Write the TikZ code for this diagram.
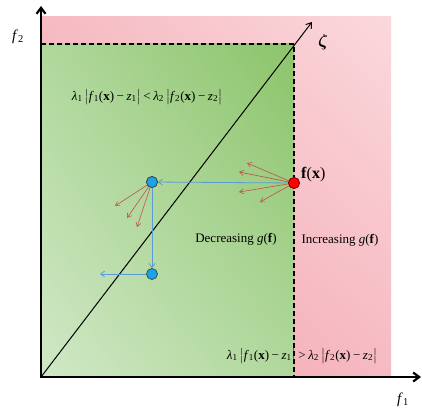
\documentclass[tikz,border=0pt]{standalone}
\usepackage{fontspec}
\setmainfont{Liberation Serif}
\usepackage{amsmath}
\usepackage{bm}
\usetikzlibrary{arrows.meta,shadings}
\definecolor{gdark}{HTML}{8CC46A}
\definecolor{gmid}{HTML}{B0D89C}
\definecolor{glight}{HTML}{D0E8C6}
\definecolor{pdark}{HTML}{F4A2AD}
\definecolor{pmid}{HTML}{F6BAC2}
\definecolor{plight}{HTML}{FAD8DC}
\definecolor{bline}{HTML}{5B9BD5}
\definecolor{bdot}{HTML}{1AA3E8}
\definecolor{rarrow}{HTML}{C0504D}
\newcommand{\sbs}[1]{\textsubscript{#1}}
\newcommand{\opsp}{\hspace{0.2em}}
\newcommand{\formula}[1]{\textit{λ}\sbs{1}\,$\bigl|$\textit{f}\sbs{1}(\textbf{x})\opsp−\opsp\textit{z}\sbs{1}$\bigr|$\opsp#1\opsp\textit{λ}\sbs{2}\,$\bigl|$\textit{f}\sbs{2}(\textbf{x})\opsp−\opsp\textit{z}\sbs{2}$\bigr|$}
\tikzset{
  axisline/.style={line width=2.2pt,-{Straight Barb[length=6pt,width=9pt]}},
  dashline/.style={line width=1.1pt,dash pattern=on 5pt off 3pt},
  bluearrow/.style={bline,line width=0.8pt,-{Straight Barb[length=4pt,width=6pt]}},
  redarrow/.style={rarrow,line width=0.6pt,-{Straight Barb[length=4pt,width=5pt]}},
  bluedot/.style={circle,fill=bdot,draw=black!75,line width=0.7pt,minimum size=11pt,inner sep=0pt},
  reddot/.style={circle,fill=red,draw=red!50!black,line width=0.7pt,minimum size=11pt,inner sep=0pt},
  lab/.style={inner sep=0pt,font=\fontsize{13}{15}\selectfont},
}
\begin{document}
\begin{tikzpicture}[x=1pt,y=-1pt]
\useasboundingbox (0,0) rectangle (422,412);
% pink region
\shade[upper left=pmid,upper right=plight,lower left=pdark,lower right=pmid] (41,17) rectangle (391,377);
% green region
\shade[upper left=gmid,upper right=gdark,lower left=glight,lower right=gmid] (41,44) rectangle (294,377);
% dashed boundaries
\coordinate (O) at (41,377);
\coordinate (Z) at (294,44);
\coordinate (ZL) at (41,44);
\coordinate (ZB) at (294,377);
\draw[dashline] (ZL) -- (Z) -- (ZB);
% diagonal
\coordinate (ztip) at (312,22);
\draw[line width=1pt,-{Straight Barb[length=5pt,width=7pt]}] (O) -- (ztip);
% axes
\coordinate (ytip) at (41,6);
\coordinate (xtip) at (421,377);
\draw[axisline] (41,378.1) -- (ytip);
\draw[axisline] (39.9,377) -- (xtip);
% labels
\node[lab,font=\fontsize{15}{17}\selectfont] (f2) at (18,37) {\textit{f}\sbs{2}};
\node[lab,font=\fontsize{15}{17}\selectfont] (f1) at (403,400) {\textit{f}\sbs{1}};
\node[lab,font=\fontsize{17}{19}\selectfont] (zeta) at (323,42) {$\bm{\zeta}$};
\node[lab] (top) at (147,97) {\formula{<}};
\node[lab] (bot) at (302,356) {\formula{>}};
\node[lab] (dec) at (236,239) {Decreasing \textit{g}(\textbf{f})};
\node[lab] (inc) at (340,240) {Increasing \textit{g}(\textbf{f})};
% points
\node[reddot] (fx) at (294,183) {};
\node[lab,font=\fontsize{16}{18}\selectfont,anchor=west] (fxl) at (301,175) {\textbf{f}(\textbf{x})};
\node[bluedot] (b1) at (152,182) {};
\node[bluedot] (b2) at (152,274) {};
\coordinate (b3) at (100,274);
% red arrows
\coordinate (r1) at (247,163);
\coordinate (r2) at (239,172);
\coordinate (r3) at (239,192);
\coordinate (r4) at (260,202);
\coordinate (s1) at (115,206);
\coordinate (s2) at (127,218);
\coordinate (s3) at (137,227);
\foreach \c in {r1,r2,r3,r4} \draw[redarrow] (fx.center) -- (\c);
\foreach \c in {s1,s2,s3} \draw[redarrow] (b1.center) -- (\c);
% blue arrows
\draw[bluearrow] (fx) -- (b1);
\draw[bluearrow] (b1) -- (b2);
\draw[bluearrow] (b2) -- (b3);
\node[bluedot] at (b1) {};
\node[reddot] at (fx) {};
\end{tikzpicture}
\end{document}
